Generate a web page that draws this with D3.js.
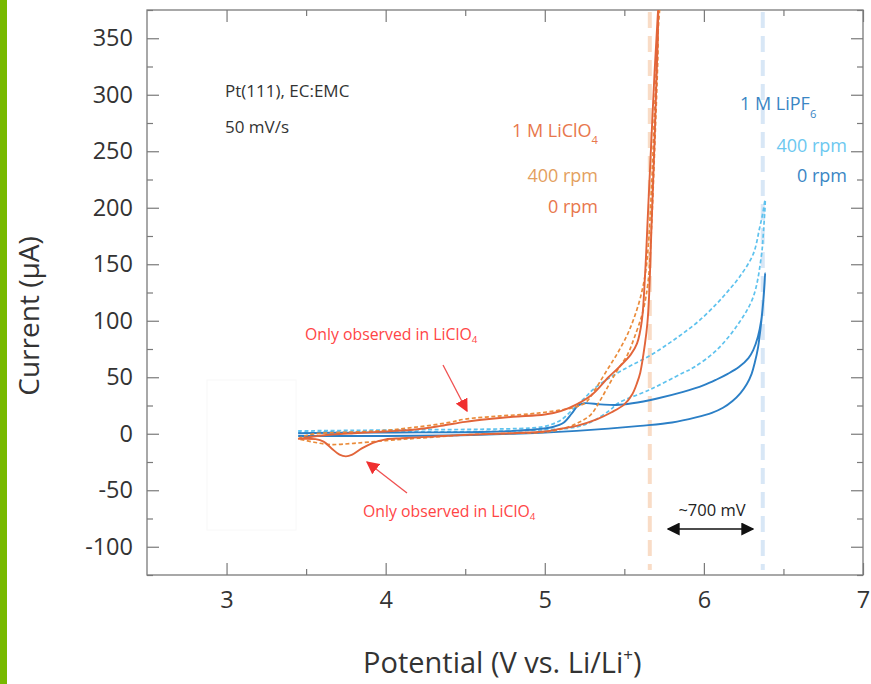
<!DOCTYPE html>
<html><head><meta charset="utf-8">
<script src="https://cdn.jsdelivr.net/npm/d3@7"></script>
<style>body{margin:0;background:#fff;} svg{display:block;font-family:"Open Sans",sans-serif;}</style>
</head><body><svg id="c" width="871" height="684"></svg>
<script>
// ---------- data ----------
const xTicks = [3, 4, 5, 6, 7];
const xMinor = [3.5, 4.5, 5.5, 6.5];
const yTicks = [-100, -50, 0, 50, 100, 150, 200, 250, 300, 350];
const yMinor = [-125, -75, -25, 25, 75, 125, 175, 225, 275, 325, 375];

// [potential V, current µA], closed CV loops (anodic branch then cathodic branch)
const liclo4_0rpm = [
  [3.45,-4.5],[3.5,-3.5],[3.6,-1.5],[3.8,0.5],[4.0,2],[4.2,4],[4.35,7],[4.5,10.5],[4.65,13],[4.8,15],
  [5.0,17],[5.1,20],[5.2,26],[5.3,35],[5.4,50],[5.46,58],[5.54,70],[5.58,80],[5.61,100],[5.63,140],
  [5.65,200],[5.67,260],[5.69,320],[5.71,370],[5.73,410],
  [5.725,410],[5.71,350],[5.69,260],[5.67,180],[5.655,120],[5.645,98],[5.63,80],[5.6,54],[5.58,45],
  [5.55,35],[5.5,26],[5.42,19],[5.33,13],[5.2,7],[5.1,4.5],[5.0,2],[4.8,0.5],[4.5,-1],[4.3,-2.5],
  [4.1,-4],[4.0,-5],[3.92,-8],[3.85,-13],[3.79,-18.5],[3.75,-20],[3.71,-18.5],[3.66,-13],[3.61,-7],
  [3.56,-4.8],[3.45,-4.5]
];
const liclo4_400rpm = [
  [3.45,-4.5],[3.5,-1.5],[3.6,0.5],[3.8,1.5],[4.0,3],[4.2,6],[4.4,10],[4.5,13],[4.7,15.5],[4.9,17.5],
  [5.0,19],[5.1,21],[5.2,24],[5.26,28],[5.32,40],[5.39,56],[5.46,72],[5.52,88],[5.56,102],[5.6,120],
  [5.63,140],[5.65,165],[5.67,215],[5.69,285],[5.71,350],[5.73,410],
  [5.725,410],[5.71,330],[5.69,250],[5.67,180],[5.65,135],[5.62,110],[5.6,100],[5.56,84],[5.52,70],
  [5.46,57],[5.41,45],[5.35,30],[5.29,17],[5.2,9],[5.1,4],[5.0,1.5],[4.7,0],[4.5,-1],[4.2,-4],
  [4.0,-6],[3.8,-8.5],[3.65,-9.5],[3.55,-7.5],[3.45,-4.5]
];
const lipf6_0rpm = [
  [3.45,0.5],[3.8,1],[4.2,1.2],[4.6,1.5],[4.8,2.5],[4.95,4],[5.05,6],[5.12,10],[5.17,18],[5.21,25],
  [5.25,27],[5.35,26],[5.45,25.5],[5.55,27],[5.7,31],[5.87,37],[6.0,43],[6.08,48],[6.15,53],
  [6.22,59],[6.28,67],[6.31,74],[6.34,86],[6.36,100],[6.375,120],[6.385,142],
  [6.37,112],[6.355,92],[6.34,76],[6.32,63],[6.3,53],[6.27,44],[6.23,36],[6.18,29],[6.12,23],
  [6.05,18.5],[5.95,14.5],[5.8,10],[5.6,7],[5.4,4.5],[5.2,2.5],[5.0,1],[4.8,0],[4.4,-1.5],[4.0,-2],
  [3.6,-2],[3.45,-2]
];
const lipf6_400rpm = [
  [3.45,2.5],[3.8,3],[4.2,3.5],[4.6,4],[4.9,5],[5.0,6.5],[5.1,12],[5.2,25],[5.26,33],[5.31,40],
  [5.38,47],[5.46,54],[5.55,61],[5.66,69],[5.77,79],[5.87,89],[5.97,100],[6.08,115],[6.15,126],
  [6.22,138],[6.31,159],[6.35,182],[6.37,195],[6.385,207],
  [6.375,180],[6.36,156],[6.31,121],[6.22,98],[6.08,74],[5.94,59],[5.87,54],[5.66,39],[5.46,27],
  [5.41,21],[5.3,11],[5.2,6],[5.0,3.5],[4.6,2],[4.0,1.5],[3.45,1]
];
const limitLiClO4 = 5.66;
const limitLiPF6 = 6.37;

// ---------- layout ----------
const svg = d3.select("#c");
const L = 147, R = 863, T = 10, B = 575;
const x = d3.scaleLinear().domain([2.5, 7]).range([L, R]);
const y = d3.scaleLinear().domain([-125, 375]).range([B, T]);

svg.append("rect").attr("x",0).attr("y",0).attr("width",871).attr("height",684).attr("fill","#fff");
svg.append("rect").attr("x",0).attr("y",0).attr("width",7).attr("height",684).attr("fill","#77b900");

const defs = svg.append("defs");
defs.append("clipPath").attr("id","clip").append("rect")
  .attr("x",L).attr("y",T).attr("width",R-L).attr("height",B-T);
function marker(id, color, size){
  defs.append("marker").attr("id",id).attr("viewBox","0 0 10 10").attr("refX",9).attr("refY",5)
    .attr("markerWidth",size).attr("markerHeight",size).attr("orient","auto-start-reverse")
    .attr("markerUnits","userSpaceOnUse")
    .append("path").attr("d","M0,0 L10,5 L0,10 z").attr("fill",color);
}
marker("redArrow","#f03030",13);
marker("blkArrow","#111",13);

// faint box
svg.append("rect").attr("x",207).attr("y",380).attr("width",89).attr("height",150)
  .attr("fill","none").attr("stroke","#f8f8f8").attr("stroke-width",1);

// axes
const tickCol = "#7a7a7a";
function styleAxis(g){
  g.select(".domain").remove();
  g.selectAll("line").attr("stroke",tickCol).attr("stroke-width",1.2);
  g.selectAll("text").attr("fill","#333").style("font-size","23.5px").style("font-family",'"Open Sans",sans-serif');
}
const fmt = d => String(d);
svg.append("g").attr("transform",`translate(0,${B})`)
  .call(d3.axisBottom(x).tickValues(xTicks).tickSize(-12).tickPadding(16).tickFormat(fmt)).call(styleAxis);
svg.append("g").attr("transform",`translate(0,${B})`)
  .call(d3.axisBottom(x).tickValues(xMinor).tickSize(-6).tickFormat("")).call(styleAxis);
svg.append("g").attr("transform",`translate(0,${T})`)
  .call(d3.axisTop(x).tickValues(xTicks).tickSize(-12).tickFormat("")).call(styleAxis);
svg.append("g").attr("transform",`translate(0,${T})`)
  .call(d3.axisTop(x).tickValues(xMinor).tickSize(-6).tickFormat("")).call(styleAxis);
svg.append("g").attr("transform",`translate(${L},0)`)
  .call(d3.axisLeft(y).tickValues(yTicks).tickSize(-12).tickPadding(14).tickFormat(fmt)).call(styleAxis);
svg.append("g").attr("transform",`translate(${L},0)`)
  .call(d3.axisLeft(y).tickValues(yMinor).tickSize(-6).tickFormat("")).call(styleAxis);
svg.append("g").attr("transform",`translate(${R},0)`)
  .call(d3.axisRight(y).tickValues(yTicks).tickSize(-12).tickFormat("")).call(styleAxis);
svg.append("g").attr("transform",`translate(${R},0)`)
  .call(d3.axisRight(y).tickValues(yMinor).tickSize(-6).tickFormat("")).call(styleAxis);

svg.append("rect").attr("x",L).attr("y",T).attr("width",R-L).attr("height",B-T)
  .attr("fill","none").attr("stroke",tickCol).attr("stroke-width",1.3);

// vertical limit lines
const plot = svg.append("g").attr("clip-path","url(#clip)");
plot.append("line").attr("x1",x(limitLiClO4)).attr("x2",x(limitLiClO4)).attr("y1",T+2).attr("y2",B-5)
  .attr("stroke","#f9dcc6").attr("stroke-width",4).attr("stroke-dasharray","16,8");
plot.append("line").attr("x1",x(limitLiPF6)).attr("x2",x(limitLiPF6)).attr("y1",T+2).attr("y2",B-5)
  .attr("stroke","#d8e7f6").attr("stroke-width",4).attr("stroke-dasharray","16,8");

// curves
const line = d3.line().x(d=>x(d[0])).y(d=>y(d[1])).curve(d3.curveCatmullRom.alpha(0.5));
const series = [
  {data: lipf6_400rpm, color:"#5ec2ee", dash:"4,2.5", w:1.7},
  {data: lipf6_0rpm, color:"#2b7fc6", dash:null, w:1.9},
  {data: liclo4_400rpm, color:"#ea8b3a", dash:"4,2.5", w:1.7},
  {data: liclo4_0rpm, color:"#e2653a", dash:null, w:1.9}
];
series.forEach(s=>{
  plot.append("path").datum(s.data).attr("d",line).attr("fill","none")
    .attr("stroke",s.color).attr("stroke-width",s.w)
    .attr("stroke-dasharray",s.dash).attr("stroke-linejoin","round");
});

// text helpers
function txt(xp, yp, str, size, color, anchor){
  return svg.append("text").attr("x",xp).attr("y",yp).attr("fill",color)
    .attr("text-anchor",anchor||"start").style("font-size",size+"px").text(str);
}
function subTxt(xp, yp, main, sub, size, color, anchor, subDy){
  const t = svg.append("text").attr("x",xp).attr("y",yp).attr("fill",color)
    .attr("text-anchor",anchor||"start").style("font-size",size+"px");
  t.append("tspan").text(main);
  t.append("tspan").attr("dy",subDy).style("font-size",(size*0.62)+"px").text(sub);
  return t;
}

// annotations
txt(225, 97, "Pt(111), EC:EMC", 17, "#333");
txt(225, 133, "50 mV/s", 17, "#333");

subTxt(598, 137, "1 M LiClO", "4", 18, "#e8774c", "end", 7);
txt(598, 182, "400 rpm", 18, "#e3a05e", "end");
txt(598, 213, "0 rpm", 18, "#e8774c", "end");

subTxt(740, 110, "1 M LiPF", "6", 18, "#3a86c4", "start", 8);
txt(847, 152, "400 rpm", 18, "#6cc8f0", "end");
txt(847, 182, "0 rpm", 18, "#3a86c4", "end");

subTxt(305, 340, "Only observed in LiClO", "4", 15.8, "#ff4545", "start", 3);
subTxt(363, 517, "Only observed in LiClO", "4", 15.8, "#ff4545", "start", 3);
svg.append("line").attr("x1",443).attr("y1",365).attr("x2",467).attr("y2",411)
  .attr("stroke","#f05050").attr("stroke-width",1.3).attr("marker-end","url(#redArrow)");
svg.append("line").attr("x1",407).attr("y1",493).attr("x2",367).attr("y2",462)
  .attr("stroke","#f05050").attr("stroke-width",1.3).attr("marker-end","url(#redArrow)");

txt(712, 516, "~700 mV", 16.5, "#222", "middle");
svg.append("line").attr("x1",668).attr("y1",529).attr("x2",753).attr("y2",529)
  .attr("stroke","#111").attr("stroke-width",1.5)
  .attr("marker-start","url(#blkArrow)").attr("marker-end","url(#blkArrow)");

// axis titles
const xt = svg.append("text").attr("x",363).attr("y",673).attr("fill","#333").style("font-size","29px");
xt.append("tspan").text("Potential (V vs. Li/Li");
xt.append("tspan").attr("dy",-12).style("font-size","17px").text("+");
xt.append("tspan").attr("dy",12).text(")");
svg.append("text").attr("transform","translate(39,316) rotate(-90)").attr("text-anchor","middle")
  .attr("fill","#333").style("font-size","28px").text("Current (µA)");
</script></body></html>
